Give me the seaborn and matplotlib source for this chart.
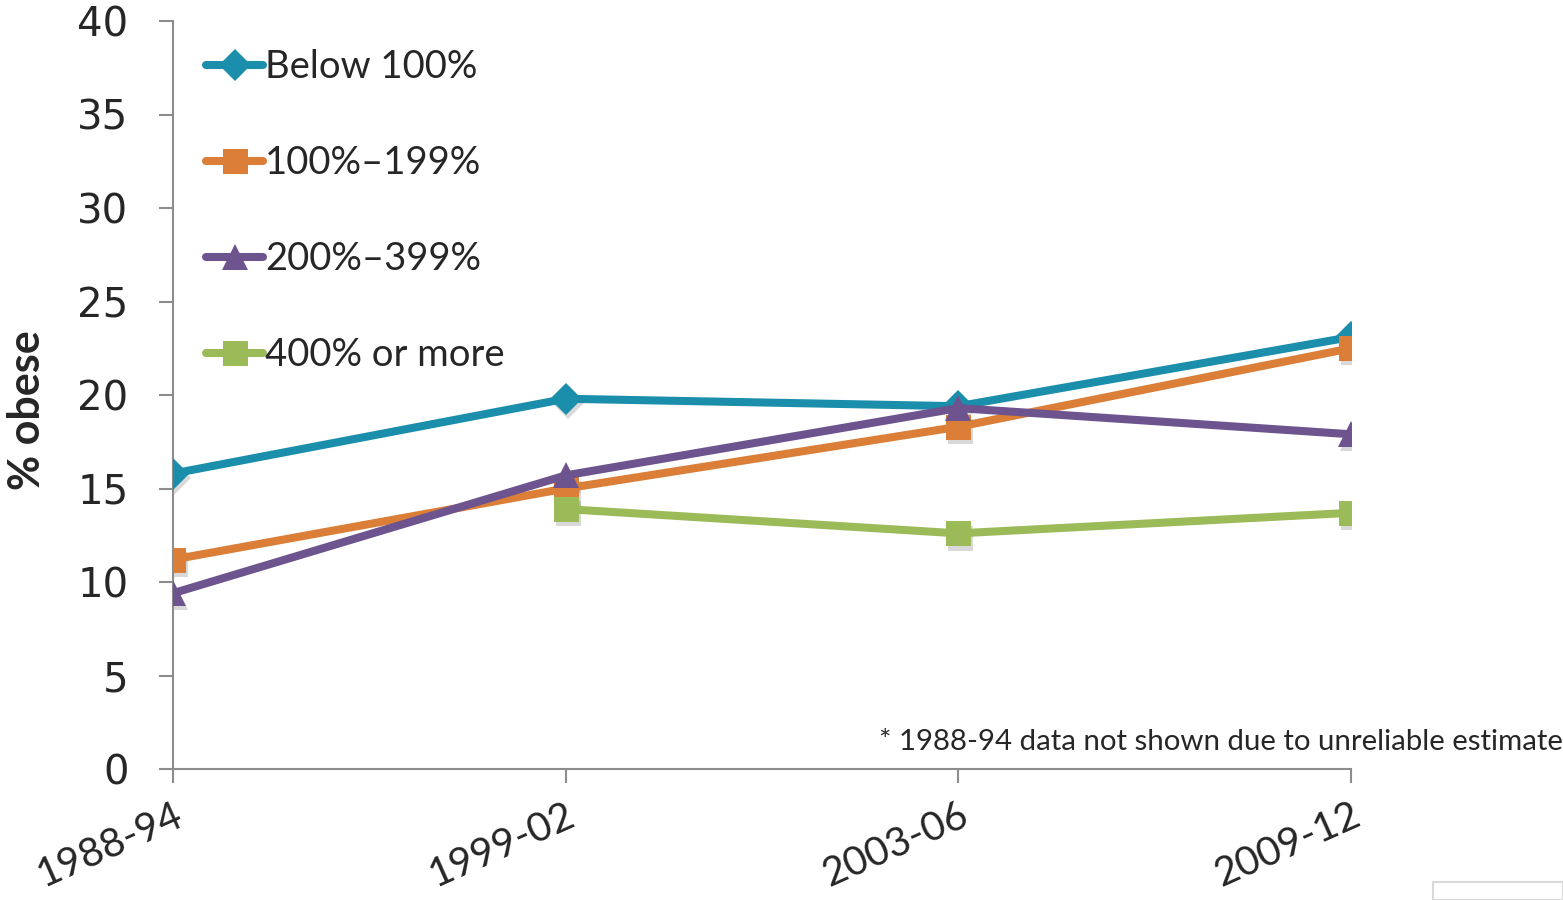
import numpy as np
import pandas as pd
import matplotlib
matplotlib.use("Agg")
import matplotlib.pyplot as plt
import matplotlib.transforms as mtransforms
from matplotlib.patches import Rectangle
import seaborn as sns

periods = ["1988-94", "1999-02", "2003-06", "2009-12"]
groups = ["Below 100%", "100%\u2013199%", "200%\u2013399%", "400% or more"]
below_100 = [15.8, 19.8, 19.4, 23.1]
pct_100_199 = [11.2, 15.0, 18.3, 22.5]
pct_200_399 = [9.4, 15.7, 19.3, 17.9]
pct_400_plus = [np.nan, 13.9, 12.6, 13.7]
footnote = "* 1988-94 data not shown due to unreliable estimate"

colors = ["#1B8EAC", "#DB7E37", "#6D548E", "#9BBB59"]
markers = ["D", "s", "^", "s"]
msizes = [16, 18, 19, 18]

rows = []
for g, vals in zip(groups, [below_100, pct_100_199, pct_200_399, pct_400_plus]):
    for i, (p, v) in enumerate(zip(periods, vals)):
        rows.append({"idx": i, "period": p, "group": g, "value": v})
df = pd.DataFrame(rows)

sns.set_theme(style="white")
plt.rcParams["font.family"] = ["Lato", "DejaVu Sans"]

fig = plt.figure(figsize=(15.63, 9), dpi=100)
ax = fig.add_axes([173 / 1563, 1 - 769 / 900, (1351 - 173) / 1563, (769 - 21) / 900])

# soft drop shadow under the markers
shadow_tr = ax.transData + mtransforms.ScaledTranslation(1.5 / 72, -3 / 72, fig.dpi_scale_trans)
for g, m, ms in zip(groups, markers, msizes):
    sub = df[df["group"] == g].dropna()
    ax.plot(sub["idx"], sub["value"], linestyle="none", marker=m, markersize=ms,
            markeredgewidth=0, color="#000000", alpha=0.15, transform=shadow_tr, zorder=2)

for g, c, m, ms in zip(groups, colors, markers, msizes):
    sub = df[df["group"] == g].dropna()
    sns.lineplot(data=sub, x="idx", y="value", ax=ax, color=c, linewidth=5.8,
                 marker=m, markersize=ms, markeredgewidth=0, label=g,
                 solid_capstyle="round", zorder=3)

ax.set_xlim(0, 3)
ax.set_ylim(0, 40)
ax.set_yticks(range(0, 41, 5))
ax.set_yticklabels([str(v) for v in range(0, 41, 5)], fontsize=29, family=["DejaVu Sans"])
ax.set_xticks(range(len(periods)))
ax.set_xticklabels(periods, fontsize=29, rotation=24, ha="right", rotation_mode="anchor")
ax.set_xlabel("")
ax.set_ylabel("% obese", fontsize=31, fontweight="bold")
ax.yaxis.set_label_coords(-0.107, 0.48)

for s in ["top", "right"]:
    ax.spines[s].set_visible(False)
for s in ["left", "bottom"]:
    ax.spines[s].set_color("#8C8C8C")
    ax.spines[s].set_linewidth(1.5)
ax.tick_params(axis="both", which="both", direction="out", length=10, width=1.5,
               color="#8C8C8C", bottom=True, left=True)
ax.tick_params(axis="y", pad=22)
ax.tick_params(axis="x", pad=10)

leg = ax.legend(loc="upper left", bbox_to_anchor=(0.015, 0.983), frameon=False,
                fontsize=27.5, handlelength=1.5, handletextpad=0.05, labelspacing=1.57,
                borderaxespad=0)

fig.text(1.0, 1 - 742 / 900, footnote, ha="right", va="center", fontsize=21.2)

fig.patches.append(Rectangle((1433 / 1563, 0), 1 - 1433 / 1563, 18 / 900,
                             transform=fig.transFigure, facecolor="white",
                             edgecolor="#D9D9D9", linewidth=1.5, zorder=5))

fig.savefig("out.png", dpi=100, facecolor="white")
